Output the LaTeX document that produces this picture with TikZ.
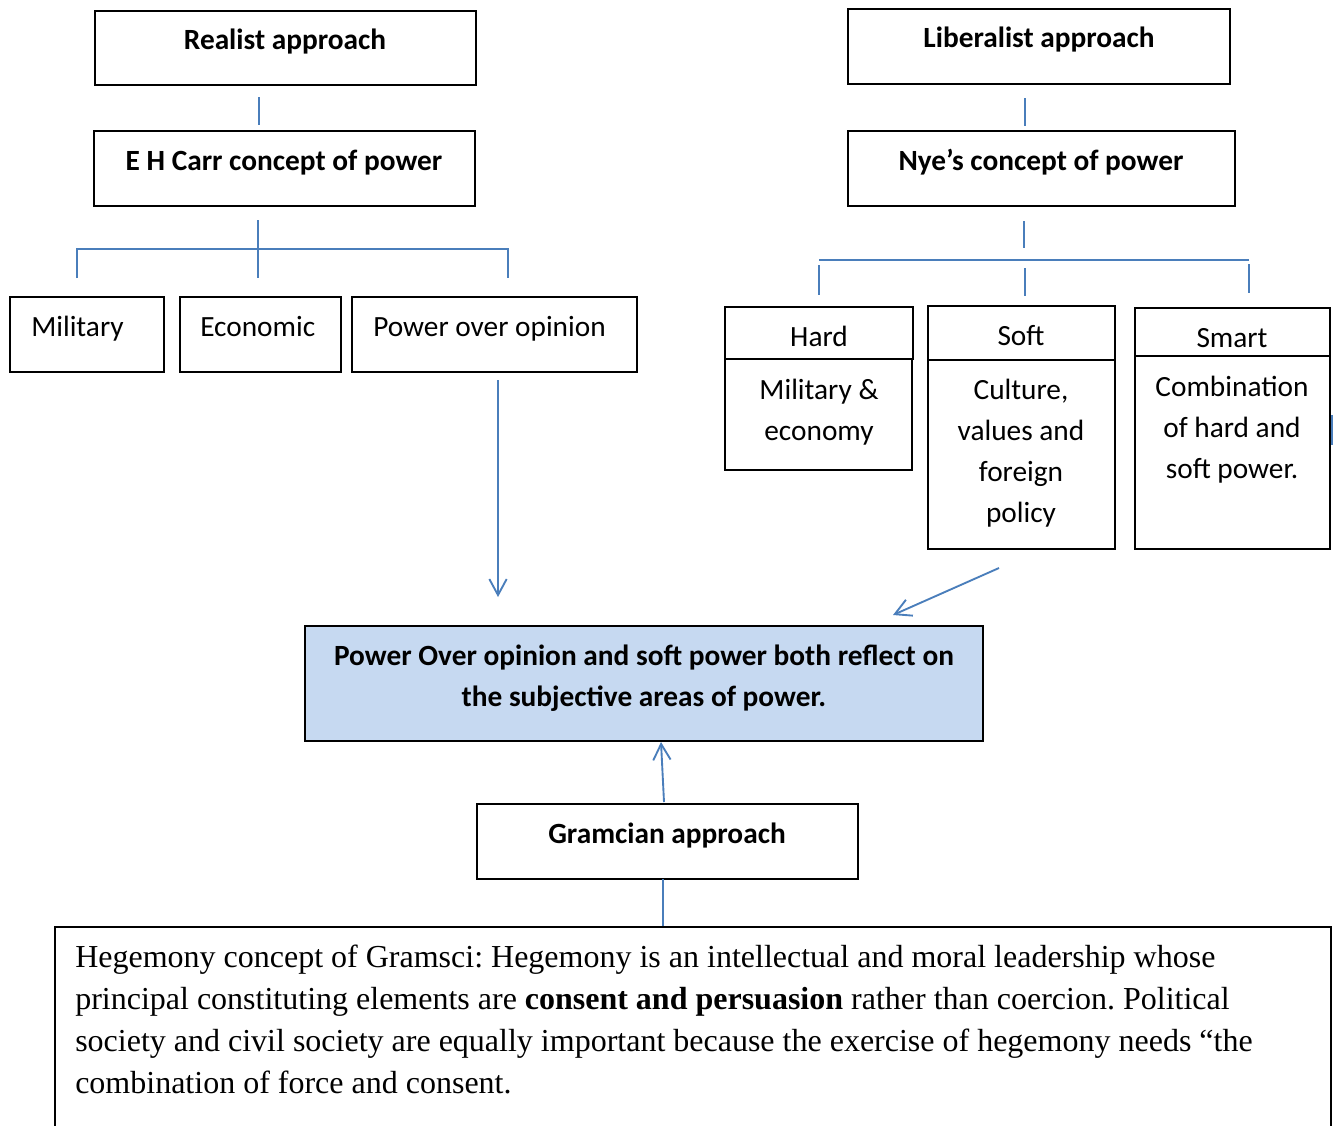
\documentclass[tikz,border=0pt]{standalone}
\usepackage{fontspec}
\usetikzlibrary{arrows.meta,fit,calc}
\newfontfamily\calibrif{Carlito}
\newfontfamily\timesf{Liberation Serif}
\definecolor{lnblue}{RGB}{74,126,187}
\definecolor{boxblue}{RGB}{198,217,241}
\frenchspacing
\begin{document}
\begin{tikzpicture}[x=0.75pt,y=-0.75pt,
  box/.style={draw=black, line width=1.3pt, inner sep=0pt},
  hdr/.style={font=\calibrif\bfseries\fontsize{22}{29}\selectfont, anchor=base, inner sep=0pt},
  txt/.style={font=\calibrif\fontsize{22}{29}\selectfont, anchor=base, inner sep=0pt},
  txtl/.style={txt, anchor=base west},
  para/.style={font=\timesf\fontsize{24}{31.5}\selectfont, anchor=base west, inner sep=0pt},
  conn/.style={draw=lnblue, line width=1.4pt},
  arr/.style={conn, -{Straight Barb[length=12pt,width=13pt]}}]
\useasboundingbox (0,0) rectangle (1334,1125);
\fill[white] (0,0) rectangle (1334,1125);
\clip (0,0) rectangle (1334,1125);

% ---------- left: realist ----------
\node[box, fit={(95,11) (476,85)}] (realist) {};
\node[hdr] (realistT) at (285,49.5) {Realist approach};
\node[box, fit={(94,131) (475,206)}] (carr) {};
\node[hdr] (carrT) at (284,170) {E H Carr concept of power};
\node[box, fit={(10,297) (164,372)}] (mil) {};
\node[txtl] (milT) at (31,336) {Military};
\node[box, fit={(180,297) (341,372)}] (eco) {};
\node[txtl] (ecoT) at (200,336) {Economic};
\node[box, fit={(352,297) (637,372)}] (poo) {};
\node[txtl] (pooT) at (373,336) {Power over opinion};

\coordinate (lA1) at (259,97); \coordinate (lA2) at (259,125);
\draw[conn] (lA1) -- (lA2);
\coordinate (lB1) at (258,220); \coordinate (lB2) at (258,278);
\draw[conn] (lB1) -- (lB2);
\coordinate (lC1) at (77,278); \coordinate (lC2) at (77,249);
\coordinate (lC3) at (508,249); \coordinate (lC4) at (508,278);
\draw[conn] (lC1) -- (lC2) -- (lC3) -- (lC4);
\coordinate (pooA) at (498,380); \coordinate (pooB) at (498,597);
\draw[arr] (pooA) -- (pooB);

% ---------- right: liberalist ----------
\node[box, fit={(848,9) (1230,84)}] (lib) {};
\node[hdr] (libT) at (1039,47.5) {Liberalist approach};
\node[box, fit={(848,131) (1235,206)}] (nye) {};
\node[hdr] (nyeT) at (1041,170) {Nye’s concept of power};

\coordinate (rA1) at (1025,98); \coordinate (rA2) at (1025,126);
\draw[conn] (rA1) -- (rA2);
\coordinate (rB1) at (1024,221); \coordinate (rB2) at (1024,248);
\draw[conn] (rB1) -- (rB2);
\coordinate (rH1) at (819,260); \coordinate (rH2) at (1249,260);
\draw[conn] (rH1) -- (rH2);
\coordinate (rD1a) at (819,265); \coordinate (rD1b) at (819,295);
\draw[conn] (rD1a) -- (rD1b);
\coordinate (rD2a) at (1025,268); \coordinate (rD2b) at (1025,296);
\draw[conn] (rD2a) -- (rD2b);
\coordinate (rD3a) at (1249,264); \coordinate (rD3b) at (1249,293);
\draw[conn] (rD3a) -- (rD3b);

\node[box, fit={(725,307) (913,359)}] (hard) {};
\node[txt] (hardT) at (819,346) {Hard};
\node[box, fit={(725,359) (912,470)}] (hardB) {};
\node[txt] (hardB1) at (819,399) {Military \&};
\node[txt] (hardB2) at (819,440) {economy};

\node[box, fit={(928,306) (1115,360)}] (soft) {};
\node[txt] (softT) at (1021,345) {Soft};
\node[box, fit={(928,360) (1115,549)}] (softB) {};
\node[txt] (softB1) at (1021,399) {Culture,};
\node[txt] (softB2) at (1021,440) {values and};
\node[txt] (softB3) at (1021,481) {foreign};
\node[txt] (softB4) at (1021,522) {policy};

\node[box, fit={(1135,308) (1330,356)}] (smart) {};
\node[txt] (smartT) at (1232,347) {Smart};
\node[box, fit={(1135,356) (1330,549)}] (smartB) {};
\node[txt] (smartB1) at (1232,396) {Combination};
\node[txt] (smartB2) at (1232,437) {of hard and};
\node[txt] (smartB3) at (1232,478) {soft power.};

\coordinate (frA) at (1332,415); \coordinate (frB) at (1332,445);
\draw[conn] (frA) -- (frB);

\coordinate (softA) at (999,568); \coordinate (softZ) at (893,615);
\draw[arr] (softA) -- (softZ);

% ---------- centre ----------
\node[box, fill=boxblue, fit={(305,626) (983,741)}] (centre) {};
\node[hdr] (centreT1) at (644,665) {Power Over opinion and soft power both reflect on};
\node[hdr] (centreT2) at (644,706) {the subjective areas of power.};

\node[box, fit={(477,804) (858,879)}] (gram) {};
\node[hdr] (gramT) at (667,843) {Gramcian approach};
\coordinate (gA) at (664,802); \coordinate (gZ) at (661,742);
\draw[arr] (gA) -- (gZ);
\coordinate (gB1) at (663,879); \coordinate (gB2) at (663,927);
\draw[conn] (gB1) -- (gB2);

% ---------- bottom ----------
\node[box, fit={(55,927) (1331,1160)}] (heg) {};
\node[para] (heg1) at (75,967) {Hegemony concept of Gramsci: Hegemony is an intellectual and moral leadership whose};
\node[para] (heg2) at (75,1009) {principal constituting elements are \textbf{consent and persuasion} rather than coercion. Political};
\node[para] (heg3) at (75,1051) {society and civil society are equally important because the exercise of hegemony needs “the};
\node[para] (heg4) at (75,1093) {combination of force and consent.};
\end{tikzpicture}
\end{document}
